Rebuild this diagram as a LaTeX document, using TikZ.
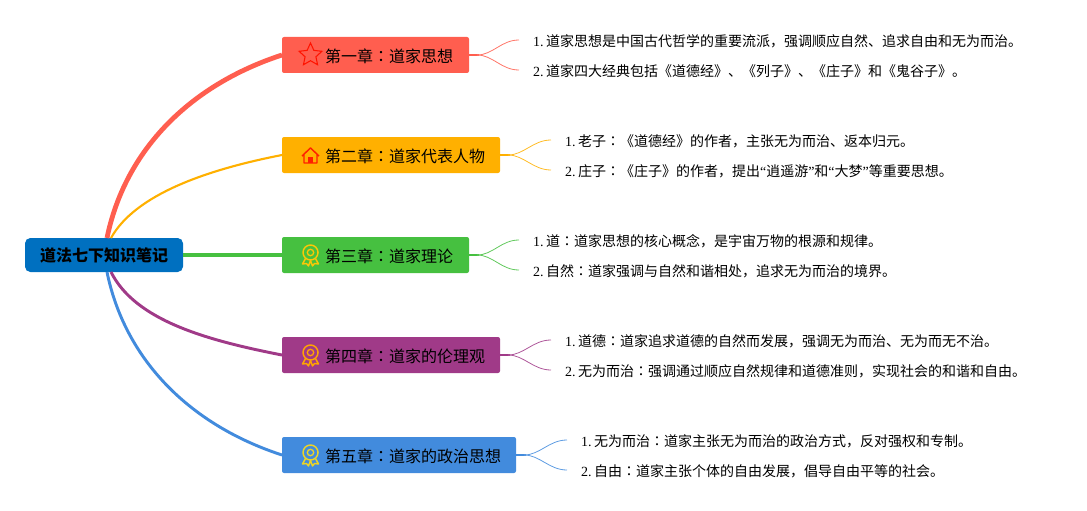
\documentclass[tikz,border=0pt]{standalone}
\usepackage{fontspec}
\setmainfont{Liberation Serif}
\newfontfamily\cjk{Noto Sans CJK SC}
\newfontfamily\cjktc{Noto Sans CJK TC}
\newcommand{\cln}{{\cjktc ：}}
\newcommand{\num}[1]{{\rmfamily #1.}\hspace{1.9pt}}
\usetikzlibrary{positioning,shapes.geometric}
\definecolor{rootblue}{HTML}{0070C0}
\definecolor{chred}{HTML}{FF5E4F}
\definecolor{chamber}{HTML}{FFB000}
\definecolor{chgreen}{HTML}{46C040}
\definecolor{chpurple}{HTML}{A03A88}
\definecolor{chblue}{HTML}{428BDD}
\tikzset{
  chbox/.style={rounded corners=1.5pt,minimum height=27pt,inner sep=0pt,outer sep=0pt,font=\cjk\fontsize{12}{14}\selectfont,anchor=west},
  leaf/.style={anchor=west,inner ysep=0pt,inner xsep=10.5pt,outer sep=0pt,text height=12.2pt,text depth=2.5pt,font=\cjk\fontsize{10.5}{12}\selectfont},
  medal/.pic={
    \draw[line width=1.1pt,#1] (0,-2.5) circle (7.5);
    \draw[line width=1pt,#1] (0,-2.5) circle (3.2);
    \draw[line width=1.1pt,#1,line join=round] (-5,3.5) -- (-8,9) -- (-4,8.5) -- (-2,11) -- (0,5.5) -- (2,11) -- (4,8.5) -- (8,9) -- (5,3.5);
  }
}
\begin{document}
\begin{tikzpicture}[x=0.75pt,y=-0.75pt]
\useasboundingbox (0,0) rectangle (1087,510);
\node[rounded corners=4pt,fill=rootblue,minimum width=118.5pt,minimum height=25.5pt,inner sep=0pt,outer sep=0pt,font=\cjk\bfseries\fontsize{12}{14}\selectfont] (root) at (104,255) {\raisebox{-.8pt}{道法七下知识笔记}};
\coordinate (root_a) at (107,238);
\coordinate (root_b) at (111,238);
\coordinate (root_d) at (111,272);
\coordinate (root_e) at (107,272);
% chapters
\node[chbox,fill=chred,minimum width=140.25pt] (ch_a) at (282,55) {};
\node[chbox,fill=chamber,minimum width=163.5pt] (ch_b) at (282,155) {};
\node[chbox,fill=chgreen,minimum width=140.25pt] (ch_c) at (282,255) {};
\node[chbox,fill=chpurple,minimum width=163.5pt] (ch_d) at (282,355) {};
\node[chbox,fill=chblue,minimum width=175.5pt] (ch_e) at (282,455) {};
\node[chbox] (txt_a) at (325,56) {第一章\cln 道家思想};
\node[chbox] (txt_b) at (325,156) {第二章\cln 道家代表人物};
\node[chbox] (txt_c) at (325,256) {第三章\cln 道家理论};
\node[chbox] (txt_d) at (325,356) {第四章\cln 道家的伦理观};
\node[chbox] (txt_e) at (325,456) {第五章\cln 道家的政治思想};
% icons
\node[star,star points=5,star point ratio=2.1,draw=red!85!orange,line width=.8pt,minimum size=18pt,inner sep=0pt] (icon_a) at (310.5,55) {};
\draw[line width=1.1pt,draw=red!75!orange,line join=round] (302,156) -- (310.5,148) -- (319,156) (304,154) -- (304,163) -- (317,163) -- (317,154);
\fill[red!75!orange] (308,157) rectangle (313,163);
\pic at (310.5,255) {medal={draw=yellow!80!red}};
\pic at (310.5,355) {medal={draw=orange!70!yellow}};
\pic at (310.5,455) {medal={draw=yellow!70!brown}};
% leaves
\node[leaf] (a_one) at (519,40) {\num{1}道家思想是中国古代哲学的重要流派，强调顺应自然、追求自由和无为而治。};
\node[leaf] (a_two) at (519,70) {\num{2}道家四大经典包括《道德经》、《列子》、《庄子》和《鬼谷子》。};
\node[leaf] (b_one) at (551,140) {\num{1}老子\cln 《道德经》的作者，主张无为而治、返本归元。};
\node[leaf] (b_two) at (551,170) {\num{2}庄子\cln 《庄子》的作者，提出{\rmfamily “}逍遥游{\rmfamily ”}和{\rmfamily “}大梦{\rmfamily ”}等重要思想。};
\node[leaf] (c_one) at (519,240) {\num{1}道\cln 道家思想的核心概念，是宇宙万物的根源和规律。};
\node[leaf] (c_two) at (519,270) {\num{2}自然\cln 道家强调与自然和谐相处，追求无为而治的境界。};
\node[leaf] (d_one) at (551,340) {\num{1}道德\cln 道家追求道德的自然而发展，强调无为而治、无为而无不治。};
\node[leaf] (d_two) at (551,370) {\num{2}无为而治\cln 强调通过顺应自然规律和道德准则，实现社会的和谐和自由。};
\node[leaf] (e_one) at (567,440) {\num{1}无为而治\cln 道家主张无为而治的政治方式，反对强权和专制。};
\node[leaf] (e_two) at (567,470) {\num{2}自由\cln 道家主张个体的自由发展，倡导自由平等的社会。};
% main branches
\draw[chred,line width=3.6pt] (root_a) .. controls (125,150) and (190,85) .. (ch_a.west);
\draw[chamber,line width=1.6pt] (root_b) .. controls (135,195) and (205,170) .. (ch_b.west);
\draw[chgreen,line width=3.2pt] (root.east) -- (ch_c.west);
\draw[chpurple,line width=2.2pt] (root_d) .. controls (135,320) and (205,340) .. (ch_d.west);
\draw[chblue,line width=2.2pt] (root_e) .. controls (125,360) and (190,425) .. (ch_e.west);
% small branches
\foreach \ch/\col in {a/chred,b/chamber,c/chgreen,d/chpurple,e/chblue}{
  \draw[\col,line width=1.1pt] (ch_\ch.east) -- ++(10,0);
  \draw[\col!85,line width=.6pt] (ch_\ch.east) ++(8,0) .. controls ++(16,0) and ++(-18,0) .. (\ch_one.west);
  \draw[\col!85,line width=.6pt] (ch_\ch.east) ++(8,0) .. controls ++(16,0) and ++(-18,0) .. (\ch_two.west);
}
\end{tikzpicture}
\end{document}
